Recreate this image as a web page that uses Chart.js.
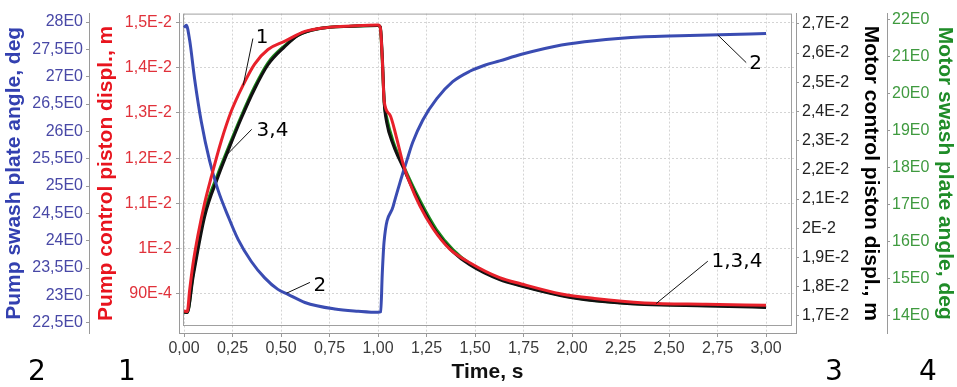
<!DOCTYPE html>
<html>
<head>
<meta charset="utf-8">
<script src="https://cdn.jsdelivr.net/npm/chart.js@4.4.1/dist/chart.umd.min.js"></script>
<style>
  html, body { margin: 0; padding: 0; background: #fff; }
  canvas { display: block; }
</style>
</head>
<body>
<canvas id="chart" width="957" height="387"></canvas>
<script>
// time axis
const xTicks = [0, 0.25, 0.5, 0.75, 1, 1.25, 1.5, 1.75, 2, 2.25, 2.5, 2.75, 3];
const xTickLabels = ['0,00', '0,25', '0,50', '0,75', '1,00', '1,25', '1,50', '1,75', '2,00', '2,25', '2,50', '2,75', '3,00'];

// 1 - pump control piston displ., m
const pumpPistonT = [0, 0.017, 0.029, 0.046, 0.072, 0.107, 0.141, 0.192, 0.243, 0.304, 0.364, 0.433, 0.518, 0.623, 0.743, 0.864, 1.0, 1.012, 1.022, 1.032, 1.061, 1.095, 1.129, 1.164, 1.215, 1.284, 1.37, 1.473, 1.627, 1.739, 1.945, 2.116, 2.374, 2.691, 3.0];
const pumpPiston = [0.00862, 0.00861, 0.00908, 0.00965, 0.01030, 0.01102, 0.01159, 0.01238, 0.01303, 0.01361, 0.01408, 0.01440, 0.01458, 0.01480, 0.01489, 0.01492, 0.01494, 0.01488, 0.01420, 0.01325, 0.01296, 0.01246, 0.01188, 0.01145, 0.01095, 0.01044, 0.00999, 0.00969, 0.00936, 0.00922, 0.00900, 0.00890, 0.00880, 0.00877, 0.00875];

// 2 - pump swash plate angle, deg
const pumpAngleT = [0, 0.012, 0.029, 0.055, 0.089, 0.132, 0.175, 0.227, 0.278, 0.347, 0.416, 0.484, 0.536, 0.623, 0.778, 0.898, 1.0, 1.014, 1.022, 1.031, 1.078, 1.112, 1.148, 1.179, 1.231, 1.303, 1.385, 1.473, 1.55, 1.627, 1.74, 1.946, 2.116, 2.374, 2.554, 2.76, 3.0];
const pumpAngle = [27.90, 27.94, 27.67, 26.95, 26.18, 25.46, 24.93, 24.45, 24.03, 23.62, 23.32, 23.11, 23.02, 22.87, 22.75, 22.71, 22.69, 22.70, 23.40, 23.97, 24.63, 25.05, 25.46, 25.80, 26.21, 26.60, 26.91, 27.10, 27.21, 27.29, 27.41, 27.58, 27.66, 27.73, 27.75, 27.77, 27.79];

// 3 - motor control piston displ., m
const motorPistonT = [0, 0.017, 0.046, 0.107, 0.175, 0.227, 0.295, 0.364, 0.433, 0.518, 0.589, 0.692, 0.864, 1.0, 1.012, 1.022, 1.032, 1.044, 1.078, 1.129, 1.215, 1.301, 1.387, 1.473, 1.627, 1.739, 1.945, 2.116, 2.374, 2.691, 3.0];
const motorPiston = [0.01713, 0.01712, 0.01830, 0.02042, 0.02176, 0.02265, 0.02376, 0.02477, 0.02560, 0.02621, 0.02661, 0.02683, 0.02692, 0.02694, 0.02690, 0.02590, 0.02431, 0.02365, 0.02287, 0.02209, 0.02086, 0.01986, 0.01919, 0.01875, 0.01824, 0.01802, 0.01769, 0.01752, 0.01739, 0.01734, 0.01729];

// 4 - motor swash plate angle, deg
const motorAngleT = [0, 0.017, 0.046, 0.107, 0.175, 0.227, 0.295, 0.364, 0.433, 0.518, 0.589, 0.692, 0.864, 1.0, 1.012, 1.022, 1.032, 1.044, 1.078, 1.129, 1.215, 1.301, 1.387, 1.473, 1.627, 1.739, 1.945, 2.116, 2.374, 2.691, 3.0];
const motorAngle = [14.08, 14.08, 15.09, 16.80, 17.83, 18.52, 19.39, 20.19, 20.84, 21.30, 21.59, 21.76, 21.83, 21.85, 21.78, 20.88, 19.76, 19.37, 18.71, 18.07, 17.12, 16.32, 15.77, 15.40, 14.99, 14.80, 14.54, 14.40, 14.30, 14.27, 14.23];

// axis ticks
const pumpAngleTicks = [22.5, 23, 23.5, 24, 24.5, 25, 25.5, 26, 26.5, 27, 27.5, 28];
const pumpAngleLabels = ['22,5E0', '23E0', '23,5E0', '24E0', '24,5E0', '25E0', '25,5E0', '26E0', '26,5E0', '27E0', '27,5E0', '28E0'];
const pumpPistonTicks = [0.009, 0.010, 0.011, 0.012, 0.013, 0.014, 0.015];
const pumpPistonLabels = ['90E-4', '1E-2', '1,1E-2', '1,2E-2', '1,3E-2', '1,4E-2', '1,5E-2'];
const motorPistonTicks = [0.017, 0.018, 0.019, 0.020, 0.021, 0.022, 0.023, 0.024, 0.025, 0.026, 0.027];
const motorPistonLabels = ['1,7E-2', '1,8E-2', '1,9E-2', '2E-2', '2,1E-2', '2,2E-2', '2,3E-2', '2,4E-2', '2,5E-2', '2,6E-2', '2,7E-2'];
const motorAngleTicks = [14, 15, 16, 17, 18, 19, 20, 21, 22];
const motorAngleLabels = ['14E0', '15E0', '16E0', '17E0', '18E0', '19E0', '20E0', '21E0', '22E0'];

// curve labels with leader lines (time, pump piston axis value)
const noteText = ['1', '3,4', '2', '2', '1,3,4'];
const noteFromT = [0.305, 0.211, 0.529, 2.751, 2.434];
const noteFromV = [0.013608, 0.012032, 0.009017, 0.014724, 0.008788];
const noteToT = [0.355, 0.349, 0.649, 2.898, 2.70];
const noteToV = [0.014644, 0.012637, 0.009254, 0.014111, 0.009723];
const noteLabelT = [0.402, 0.456, 0.700, 2.946, 2.85];
const noteLabelV = [0.014655, 0.012615, 0.009183, 0.014076, 0.009708];

const axisNumbers = ['2', '1', '3', '4'];

function toPoints(xs, ys) {
    return xs.map((x, i) => ({x: x, y: ys[i]}));
}

function setTicks(values) {
    return function(scale) {
        scale.ticks = values.map(v => ({value: v}));
    };
}

const sans = "'Liberation Sans', Arial, sans-serif";
const tickFont = {family: sans, size: 16};
const titleFont = {family: sans, size: 21, weight: 'bold'};
const axisGrey = '#9a9a9a';

function yAxis(pos, weight, min, max, ticks, labels, color, titleColor, title, width, pad, titlePad, grid) {
    return {
        type: 'linear',
        position: pos,
        weight: weight,
        min: min,
        max: max,
        afterBuildTicks: setTicks(ticks),
        afterFit: function(scale) { scale.width = width; },
        ticks: {
            callback: (v, i) => labels[i],
            color: color,
            font: tickFont,
            padding: pad
        },
        grid: {
            drawOnChartArea: grid,
            color: '#d4d4d4',
            tickLength: 3,
            tickColor: axisGrey
        },
        border: {color: axisGrey, dash: [2, 2]},
        title: {
            display: true,
            text: title,
            color: titleColor,
            font: titleFont,
            padding: {top: titlePad, bottom: 0}
        }
    };
}

const framePlugin = {
    id: 'frame',
    beforeDatasetsDraw(chart) {
        const a = chart.chartArea;
        const ctx = chart.ctx;
        ctx.save();
        ctx.strokeStyle = '#a0a0a0';
        ctx.lineWidth = 1;
        ctx.strokeRect(a.left + 4.5, a.top + 0.5, a.right - a.left - 9, a.bottom - a.top - 8);
        ctx.restore();
    }
};

const notesPlugin = {
    id: 'notes',
    afterDatasetsDraw(chart) {
        const ctx = chart.ctx;
        const xs = chart.scales.x;
        const ys = chart.scales.yPumpPiston;
        ctx.save();
        ctx.strokeStyle = '#111';
        ctx.lineWidth = 1;
        ctx.fillStyle = '#000';
        ctx.font = '20px "DejaVu Sans", Verdana, sans-serif';
        ctx.textAlign = 'center';
        ctx.textBaseline = 'middle';
        for (let i = 0; i < noteText.length; i++) {
            ctx.beginPath();
            ctx.moveTo(xs.getPixelForValue(noteFromT[i]), ys.getPixelForValue(noteFromV[i]));
            ctx.lineTo(xs.getPixelForValue(noteToT[i]), ys.getPixelForValue(noteToV[i]));
            ctx.stroke();
            ctx.fillText(noteText[i], xs.getPixelForValue(noteLabelT[i]), ys.getPixelForValue(noteLabelV[i]));
        }
        // axis numbers under each value axis
        const ids = ['yPumpAngle', 'yPumpPiston', 'yMotorPiston', 'yMotorAngle'];
        const shift = [37, 38, 38, 41];
        ctx.font = '28px "DejaVu Sans", Verdana, sans-serif';
        for (let i = 0; i < ids.length; i++) {
            const s = chart.scales[ids[i]];
            ctx.fillText(axisNumbers[i], s.left + shift[i], 373);
        }
        ctx.restore();
    }
};

const ctx = document.getElementById('chart').getContext('2d');
new Chart(ctx, {
    type: 'line',
    data: {
        datasets: [{
            label: '1',
            data: toPoints(pumpPistonT, pumpPiston),
            yAxisID: 'yPumpPiston',
            borderColor: '#e8212b',
            borderWidth: 3,
            order: 1
        }, {
            label: '2',
            data: toPoints(pumpAngleT, pumpAngle),
            yAxisID: 'yPumpAngle',
            borderColor: '#3a4cb2',
            borderWidth: 3,
            order: 2
        }, {
            label: '3',
            data: toPoints(motorPistonT, motorPiston),
            yAxisID: 'yMotorPiston',
            borderColor: '#111111',
            borderWidth: 3,
            order: 3
        }, {
            label: '4',
            data: toPoints(motorAngleT, motorAngle),
            yAxisID: 'yMotorAngle',
            borderColor: '#1c8a1c',
            borderWidth: 3,
            order: 4
        }]
    },
    options: {
        responsive: false,
        animation: false,
        elements: {
            point: {radius: 0},
            line: {cubicInterpolationMode: 'monotone', fill: false}
        },
        layout: {padding: {top: 6, left: 0, right: 0, bottom: 0}},
        plugins: {
            legend: {display: false},
            tooltip: {enabled: false}
        },
        scales: {
            x: {
                type: 'linear',
                position: 'bottom',
                min: -0.0258,
                max: 3.1546,
                afterBuildTicks: setTicks(xTicks),
                afterFit: function(scale) { scale.height = 54; },
                ticks: {
                    callback: (v, i) => xTickLabels[i],
                    color: '#3a3a3a',
                    font: tickFont,
                    padding: 2,
                    maxRotation: 0,
                    autoSkip: false
                },
                grid: {color: '#d4d4d4', tickLength: 4, tickColor: axisGrey},
                border: {color: axisGrey, dash: [2, 2]},
                title: {
                    display: true,
                    text: 'Time, s',
                    color: '#111',
                    font: titleFont,
                    padding: {top: 0, bottom: 2}
                }
            },
            yPumpAngle: yAxis('left', 2, 22.312, 28.155, pumpAngleTicks, pumpAngleLabels, '#4848a6', '#3340b0', 'Pump swash plate angle, deg', 89, 3, 2, false),
            yPumpPiston: yAxis('left', 1, 0.0081362, 0.0151943, pumpPistonTicks, pumpPistonLabels, '#e0313a', '#e8141e', 'Pump control piston displ., m', 90, 4, 5, true),
            yMotorPiston: yAxis('right', 1, 0.0164147, 0.0273512, motorPistonTicks, motorPistonLabels, '#222', '#000', 'Motor control piston displ., m', 91, 3, 4, false),
            yMotorAngle: yAxis('right', 2, 13.517, 22.172, motorAngleTicks, motorAngleLabels, '#3f9a3f', '#1f8c28', 'Motor swash plate angle, deg', 70, 2, 0, false)
        }
    },
    plugins: [framePlugin, notesPlugin]
});
</script>
</body>
</html>
